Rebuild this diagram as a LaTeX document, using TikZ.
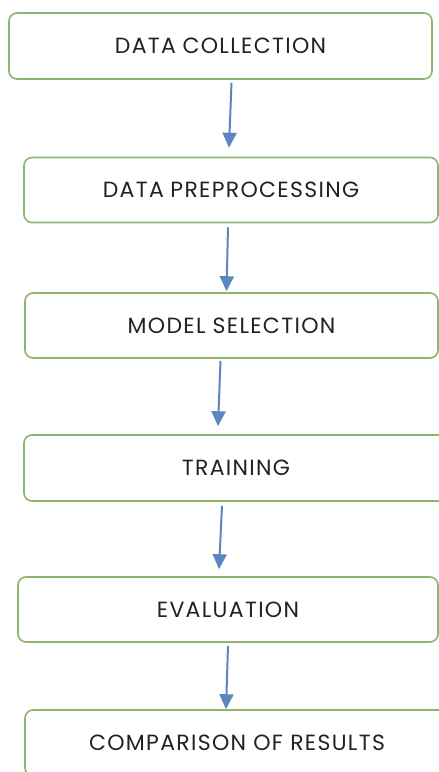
\documentclass[tikz,border=0pt]{standalone}
\usepackage{fontspec}
\setmainfont{Poppins}[LetterSpace=6]
\usetikzlibrary{arrows.meta}
\definecolor{boxgreen}{HTML}{8FB46E}
\definecolor{arrowblue}{HTML}{5B87BE}
\definecolor{txt}{HTML}{222222}
\begin{document}
\begin{tikzpicture}[x=1pt,y=-1pt,
  stepbox/.style={draw=boxgreen,line width=1.6pt,rounded corners=8pt,fill=white,
    text=txt,font=\fontsize{22}{26}\selectfont,inner sep=0pt},
  flow/.style={draw=arrowblue,line width=2pt,-{Triangle[width=14pt,length=15pt]}}]
\useasboundingbox (0,0) rectangle (439,772);
\clip (0,0) rectangle (439,772);
\fill[white] (0,0) rectangle (439,772);
\node[stepbox,minimum width=423pt,minimum height=66pt] (b1) at (220.5,46) {DATA\hspace{0.3em}COLLECTION};
\node[stepbox,minimum width=414pt,minimum height=65pt] (b2) at (231,190) {DATA\hspace{0.3em}PREPROCESSING};
\node[stepbox,minimum width=413pt,minimum height=65pt] (b3) at (231.5,325.5) {MODEL SELECTION};
\node[stepbox,minimum width=424pt,minimum height=66pt] (b4) at (236,468) {TRAINING};
\node[stepbox,minimum width=420pt,minimum height=65pt] (b5) at (228,609.5) {EVALUATION};
\node[stepbox,minimum width=424pt,minimum height=66pt] (b6) at (237,743) {COMPARISON OF RESULTS};
\draw[flow] ([xshift=11pt,yshift=-3pt]b1.south) -- ([xshift=-2pt,yshift=9pt]b2.north);
\draw[flow] ([xshift=-3pt,yshift=-4pt]b2.south) -- ([xshift=-5pt,yshift=1pt]b3.north);
\draw[flow] ([xshift=-11pt,yshift=-2pt]b3.south) -- ([xshift=-18pt,yshift=8pt]b4.north);
\draw[flow] ([xshift=-14pt,yshift=-4pt]b4.south) -- ([xshift=-9pt,yshift=7pt]b5.north);
\draw[flow] ([xshift=0pt,yshift=-3pt]b5.south) -- ([xshift=-11pt,yshift=0pt]b6.north);
\end{tikzpicture}
\end{document}
